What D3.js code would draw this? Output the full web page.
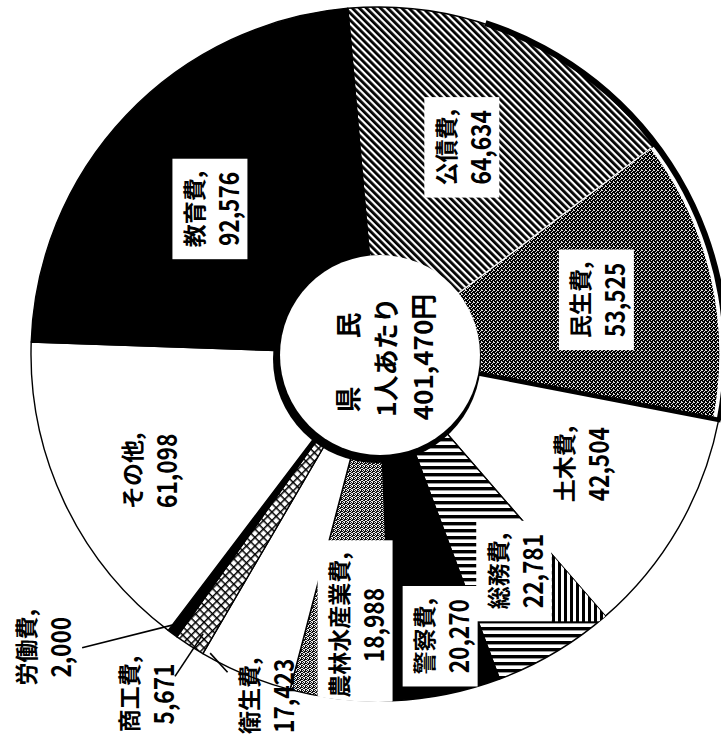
<!DOCTYPE html>
<html><head><meta charset="utf-8">
<script src="https://cdn.jsdelivr.net/npm/d3@7/dist/d3.min.js"></script>
<style>body{margin:0;background:#fff}svg{display:block}</style>
</head><body>
<svg id="chart" width="721" height="742"></svg>
<script>
// ---- data ----
const categories = ["公債費","民生費","土木費","総務費","警察費","農林水産業費","衛生費","商工費","労働費","その他","教育費"];
const values     = [64634, 53525, 42504, 22781, 20270, 18988, 17423, 5671, 2000, 61098, 92576];
const centerLines = ["県　民", "1人あたり", "401,470円"];

// ---- layout / style (not data) ----
const W = 721, H = 742, cx = 378, cy = 354, R = 347, rHole = 100;
const holeX = 380, holeY = 355;
const deg = Math.PI / 180;
const startDeg = -5;
const fmt = d3.format(",");
const FONT = "'Noto Sans CJK JP','Noto Sans',sans-serif";

const fills = {
  "公債費": "url(#hatch)", "民生費": "url(#ditherDark)", "土木費": "#fff", "総務費": "url(#hstripes)",
  "警察費": "#000", "農林水産業費": "url(#ditherLight)", "衛生費": "#fff", "商工費": "url(#cross)",
  "労働費": "#000", "その他": "#fff", "教育費": "#000"
};
// inside labels: [angle offset from slice mid (deg), radius, boxed]
const insideLabel = {
  "教育費": [-2.7, 222, true], "公債費": [-1.9, 223, true], "民生費": [-0.9, 225, true], "土木費": [-1.4, 230, false],
  "総務費": [-1.3, 256, true], "警察費": [-1.0, 289, true], "農林水産業費": [-1.35, 272, true], "その他": [-1.5, 258, false]
};
// outside labels: text polar position + leader (polar points, absolute angle)
const outsideLabel = {
  "衛生費": {pos: [198.3, 360], leader: [[209.3, 343], [205.3, 352]]},
  "商工費": {pos: [214.4, 412], leader: [[212.0, 330], [212.2, 381]]},
  "労働費": {pos: [228.9, 446], leader: [[215.3, 327], [225.2, 417]]}
};

const svg = d3.select("#chart");
const defs = svg.append("defs");

function pattern(id, w, h, transform) {
  const p = defs.append("pattern").attr("id", id).attr("patternUnits", "userSpaceOnUse")
    .attr("width", w).attr("height", h);
  if (transform) p.attr("patternTransform", transform);
  return p;
}
let p = pattern("hatch", 5, 5, "rotate(-45)");
p.append("rect").attr("width", 5).attr("height", 5).attr("fill", "#fff");
p.append("rect").attr("width", 2.8).attr("height", 5).attr("fill", "#000");

p = pattern("hstripes", 10, 7);
p.append("rect").attr("width", 10).attr("height", 7).attr("fill", "#fff");
p.append("rect").attr("width", 10).attr("height", 3.4).attr("fill", "#000");

p = pattern("vstripes", 6, 10);
p.append("rect").attr("width", 6).attr("height", 10).attr("fill", "#fff");
p.append("rect").attr("width", 3).attr("height", 10).attr("fill", "#000");

p = pattern("cross", 6, 6, "rotate(45)");
p.append("rect").attr("width", 6).attr("height", 6).attr("fill", "#fff");
p.append("rect").attr("width", 1.5).attr("height", 6).attr("fill", "#000");
p.append("rect").attr("width", 6).attr("height", 1.5).attr("fill", "#000");

function dither(id, bg, dots, color) {
  const q = pattern(id, 4, 4);
  q.attr("shape-rendering", "crispEdges");
  q.append("rect").attr("width", 4).attr("height", 4).attr("fill", bg);
  dots.forEach(([x, y]) => q.append("rect").attr("x", x).attr("y", y).attr("width", 1).attr("height", 1).attr("fill", color));
}
dither("ditherDark", "#000", [[0,0],[2,1],[1,2],[3,3],[3,0]], "#ddd");
dither("ditherLight", "#111", [[0,0],[2,0],[1,1],[3,2],[0,2],[2,3],[1,3]], "#eee");

// ---- pie ----
const pie = d3.pie().sort(null).value((d, i) => values[i])
  .startAngle(startDeg * deg).endAngle((startDeg + 360) * deg);
const arcs = pie(categories);
const arc = d3.arc().innerRadius(0).outerRadius(R);
const arcInset = d3.arc().innerRadius(0).outerRadius(R - 5);
const polar = (aDeg, r) => [cx + r * Math.sin(aDeg * deg), cy - r * Math.cos(aDeg * deg)];

defs.append("clipPath").attr("id", "pieClip").append("circle").attr("cx", cx).attr("cy", cy).attr("r", R + 1);

const gSlices = svg.append("g");
const gOverlay = svg.append("g");
const gRing = svg.append("g");
const gHole = svg.append("g");
const gBoxes = svg.append("g").attr("clip-path", "url(#pieClip)");
const gLabels = svg.append("g").attr("font-family", FONT).attr("font-weight", "bold");
const gCenter = svg.append("g").attr("font-family", FONT).attr("font-weight", "bold");

gSlices.selectAll("path").data(arcs).join("path")
  .attr("transform", `translate(${cx},${cy})`)
  .attr("d", d => d.data === "民生費" ? arcInset(d) : arc(d))
  .attr("fill", d => fills[d.data])
  .attr("stroke", d => d.data === "民生費" ? "#fff" : "#000")
  .attr("stroke-width", 1.4)
  .attr("stroke-linejoin", "round");

// thick outer band on 公債費 / 民生費
const minsei = arcs[categories.indexOf("民生費")];
gRing.append("path").attr("transform", `translate(${cx},${cy})`)
  .attr("d", d3.arc().innerRadius(R - 2).outerRadius(R + 4).startAngle(18 * deg).endAngle(minsei.endAngle)())
  .attr("fill", "#000");
const bA = minsei.endAngle / deg;
gRing.append("line")
  .attr("x1", polar(bA, rHole)[0]).attr("y1", polar(bA, rHole)[1])
  .attr("x2", polar(bA, R + 2)[0]).attr("y2", polar(bA, R + 2)[1])
  .attr("stroke", "#000").attr("stroke-width", 4.5);

// hole with shadow crescent
gHole.append("circle").attr("cx", holeX - 3).attr("cy", holeY + 4).attr("r", 104).attr("fill", "#000");
gHole.append("circle").attr("cx", holeX).attr("cy", holeY).attr("r", rHole).attr("fill", "#fff");

// ---- labels ----
const FS = 23, FSV = 27, SCV = 0.84, GAP = 34, PADX = 12, PADY = 9;
function label(x, y, lines, boxed) {
  const g = gLabels.append("g").attr("transform", `translate(${x},${y}) rotate(-90)`);
  let maxLen = 0;
  lines.forEach((t, i) => {
    const isVal = i === 1;
    const ty = (i - (lines.length - 1) / 2) * GAP;
    const tx = g.append("text")
      .attr("transform", `translate(0,${ty}) scale(${isVal ? SCV : 1},1)`)
      .attr("text-anchor", "middle").attr("dominant-baseline", "central")
      .attr("font-size", isVal ? FSV : FS).attr("fill", "#000").text(t);
    maxLen = Math.max(maxLen, tx.node().getComputedTextLength() * (isVal ? SCV : 1));
  });
  const bw = maxLen + 2 * PADX, bh = GAP * (lines.length - 1) + FS + 2 * PADY;
  if (boxed) {
    gBoxes.append("rect").attr("x", x - bh / 2).attr("y", y - bw / 2)
      .attr("width", bh).attr("height", bw).attr("fill", "#fff");
  }
  return {left: x - bh / 2, right: x + bh / 2, top: y - bw / 2, bottom: y + bw / 2};
}

const boxes = {};
arcs.forEach(d => {
  const name = d.data, v = values[d.index];
  const lines = [name + ",", fmt(v)];
  if (insideLabel[name]) {
    const [off, r, boxed] = insideLabel[name];
    const mid = (d.startAngle + d.endAngle) / 2 / deg + off;
    const [x, y] = polar(mid, r);
    boxes[name] = label(x, y, lines, boxed);
  } else if (outsideLabel[name]) {
    const o = outsideLabel[name];
    const [x, y] = polar(o.pos[0], o.pos[1]);
    label(x, y, lines, false);
    const a = polar(...o.leader[0]), b = polar(...o.leader[1]);
    gLabels.append("line").attr("x1", a[0]).attr("y1", a[1]).attr("x2", b[0]).attr("y2", b[1])
      .attr("stroke", "#000").attr("stroke-width", 1.6);
  }
});

// 総務費: vertical-stripe area right of its label box (as in the source scan)
const soumu = arcs[categories.indexOf("総務費")];
defs.append("clipPath").attr("id", "soumuClip").append("path")
  .attr("transform", `translate(${cx},${cy})`).attr("d", arc(soumu));
const sb = boxes["総務費"];
gOverlay.append("rect").attr("clip-path", "url(#soumuClip)")
  .attr("x", sb.right).attr("y", 0).attr("width", W - sb.right).attr("height", sb.bottom)
  .attr("fill", "url(#vstripes)");

// ---- centre text ----
const cg = gCenter.append("g").attr("transform", `translate(384,357) rotate(-90)`);
centerLines.forEach((t, i) => {
  cg.append("text").attr("x", 0).attr("y", (i - 1) * 37.5)
    .attr("text-anchor", "middle").attr("dominant-baseline", "central")
    .attr("font-size", 26).attr("letter-spacing", i === 0 ? 11 : 0)
    .text(t);
});
</script>
</body></html>
